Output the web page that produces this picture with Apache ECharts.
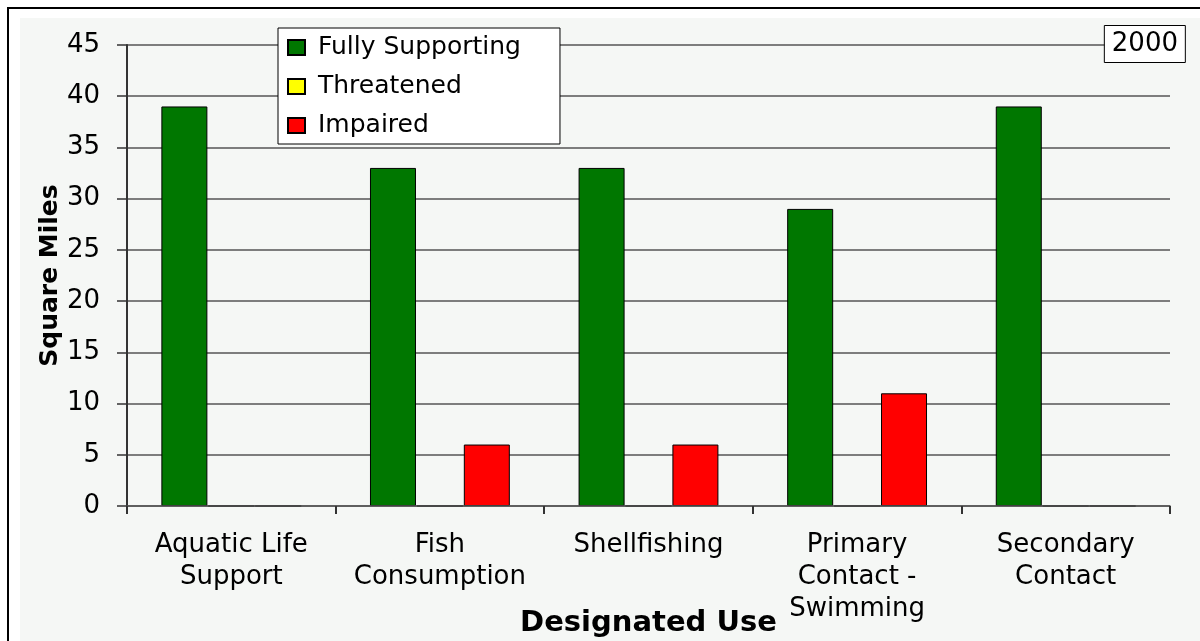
<!DOCTYPE html>
<html><head><meta charset="utf-8">
<script src="https://cdn.jsdelivr.net/npm/echarts@6/dist/echarts.min.js"></script>
<style>html,body{margin:0;padding:0;background:#fff}#c{width:1200px;height:641px}</style>
</head><body><div id="c"></div>
<script>
const categories = ['Aquatic Life\nSupport', 'Fish\nConsumption', 'Shellfishing', 'Primary\nContact -\nSwimming', 'Secondary\nContact'];
const fullySupporting = [39, 33, 33, 29, 39];
const threatened = [0, 0, 0, 0, 0];
const impaired = [0, 6, 6, 11, 0];
const yTicks = {min: 0, max: 45, interval: 5};

const font = '"DejaVu Sans", Arial, sans-serif';
const chart = echarts.init(document.getElementById('c'));
const bar = (name, data, color) => ({
  name, type: 'bar', data, barWidth: 46, barGap: '2%', z: 2,
  itemStyle: {color, borderColor: '#000', borderWidth: 1}
});
chart.setOption({
  backgroundColor: '#fff',
  animation: false,
  graphic: [
    {type: 'rect', silent: true, z: -10, shape: {x: 20, y: 18, width: 1190, height: 640}, style: {fill: '#f5f7f5'}},
    {type: 'rect', silent: true, z: -9, shape: {x: 8, y: 8, width: 1300, height: 800}, style: {fill: 'none', stroke: '#000', lineWidth: 2}}
  ],
  title: {
    text: '2000', right: 14, top: 25,
    borderColor: '#000', borderWidth: 1, padding: [6, 8, 6, 8],
    backgroundColor: '#fff',
    textStyle: {fontFamily: font, fontSize: 26, fontWeight: 'normal', color: '#000', lineHeight: 26}
  },
  legend: {
    orient: 'vertical', left: 278, top: 28,
    icon: 'rect',
    itemWidth: 17, itemHeight: 15, itemGap: 14,
    padding: [7, 39, 6, 9],
    borderColor: '#000', borderWidth: 1, backgroundColor: '#fff',
    textStyle: {fontFamily: font, fontSize: 25, lineHeight: 25, color: '#000', padding: [0, 0, 0, 8]},
    data: ['Fully Supporting', 'Threatened', 'Impaired']
  },
  grid: {left: 127, right: 30, top: 45, bottom: 135, outerBoundsMode: 'none', containLabel: false},
  xAxis: {
    type: 'category', data: categories, z: 5,
    name: 'Designated Use', nameLocation: 'middle', nameGap: 103, nameMoveOverlap: false,
    nameTextStyle: {fontFamily: font, fontSize: 29, fontWeight: 'bold', color: '#000'},
    axisLine: {lineStyle: {color: '#555', width: 1.5}},
    axisTick: {show: true, length: 8, lineStyle: {color: '#333', width: 2}},
    axisLabel: {interval: 0, margin: 23, lineHeight: 32, fontFamily: font, fontSize: 26, color: '#000'}
  },
  yAxis: {
    type: 'value', min: yTicks.min, max: yTicks.max, interval: yTicks.interval,
    name: 'Square Miles', nameLocation: 'middle', nameGap: 64, nameRotate: 90, nameMoveOverlap: false,
    nameTextStyle: {fontFamily: font, fontSize: 25, fontWeight: 'bold', color: '#000'},
    axisLine: {show: true, lineStyle: {color: '#333', width: 2}},
    axisTick: {show: true, length: 10, lineStyle: {color: '#333', width: 1.5}},
    axisLabel: {margin: 27, fontFamily: font, fontSize: 26, color: '#000'},
    splitLine: {lineStyle: {color: '#555', width: 1.5}}
  },
  series: [
    bar('Fully Supporting', fullySupporting, '#007700'),
    bar('Threatened', threatened, '#ffff00'),
    bar('Impaired', impaired, '#ff0000')
  ]
});
</script></body></html>
